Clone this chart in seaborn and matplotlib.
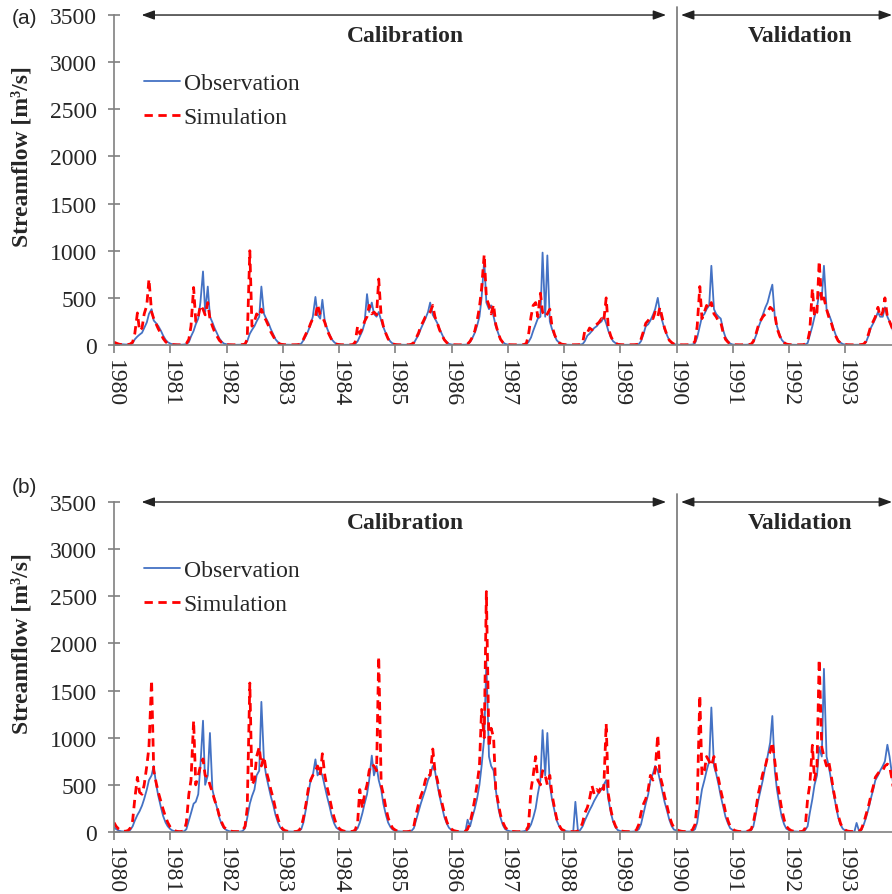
import matplotlib
matplotlib.use('Agg')
import matplotlib.dates as mdates
import matplotlib.pyplot as plt
import pandas as pd
import seaborn as sns

# semi-monthly streamflow [m3/s] (1st and 15th of each month),
# one row per year 1980..1993
obs_a = [
    25, 15, 10, 8, 5, 5, 5, 8, 20, 60, 90, 110, 130, 180, 240, 330, 380, 260, 230, 200, 150, 100, 55, 30,
    15, 8, 5, 4, 3, 3, 5, 10, 30, 90, 150, 220, 280, 450, 780, 350, 620, 300, 240, 180, 120, 70, 35, 15,
    8, 5, 3, 2, 2, 2, 3, 5, 10, 40, 120, 160, 200, 250, 300, 620, 330, 280, 230, 170, 110, 60, 30, 12,
    6, 4, 3, 2, 2, 2, 3, 5, 15, 50, 100, 150, 220, 300, 510, 320, 280, 480, 250, 180, 110, 60, 30, 12,
    5, 3, 2, 2, 2, 2, 3, 10, 40, 90, 150, 230, 540, 350, 450, 330, 300, 350, 260, 190, 120, 70, 35, 15,
    6, 4, 3, 2, 2, 2, 3, 8, 20, 60, 110, 170, 230, 280, 350, 450, 320, 280, 230, 170, 110, 60, 30, 12,
    5, 3, 2, 2, 2, 2, 3, 8, 30, 70, 130, 200, 300, 500, 900, 450, 380, 420, 300, 200, 120, 60, 30, 12,
    5, 3, 2, 2, 2, 2, 3, 5, 10, 30, 80, 150, 220, 280, 300, 980, 300, 950, 250, 170, 100, 50, 25, 10,
    5, 3, 2, 2, 2, 2, 3, 5, 10, 40, 100, 120, 150, 180, 200, 230, 250, 300, 230, 150, 80, 40, 20, 8,
    4, 3, 2, 2, 2, 2, 3, 5, 10, 40, 120, 200, 220, 260, 320, 380, 500, 350, 250, 170, 100, 50, 25, 10,
    5, 3, 2, 2, 2, 2, 3, 5, 20, 80, 200, 300, 330, 380, 420, 840, 380, 330, 300, 280, 150, 80, 40, 15,
    5, 3, 2, 2, 2, 2, 3, 5, 10, 30, 100, 180, 250, 320, 400, 450, 560, 640, 300, 200, 110, 55, 25, 10,
    5, 3, 2, 2, 2, 2, 3, 5, 20, 100, 200, 300, 400, 550, 500, 840, 380, 330, 260, 180, 100, 50, 25, 10,
    5, 3, 2, 2, 2, 2, 3, 5, 10, 30, 100, 180, 230, 280, 350, 300, 300, 400, 300, 250, 180, 100, 50, 20,
]
sim_a = [
    30, 20, 10, 5, 3, 3, 5, 10, 30, 120, 340, 150, 180, 330, 420, 700, 350, 280, 220, 170, 120, 70, 35, 15,
    10, 5, 3, 2, 2, 2, 5, 15, 60, 200, 610, 250, 300, 420, 380, 320, 450, 280, 200, 140, 90, 50, 25, 10,
    5, 3, 2, 2, 2, 2, 3, 5, 10, 60, 1000, 200, 250, 330, 300, 380, 300, 260, 200, 140, 90, 50, 25, 10,
    5, 3, 2, 2, 2, 2, 3, 5, 15, 60, 120, 160, 230, 280, 300, 430, 320, 300, 240, 160, 100, 55, 25, 10,
    5, 3, 2, 2, 2, 2, 5, 30, 200, 120, 180, 250, 300, 420, 330, 350, 320, 700, 300, 200, 120, 65, 30, 12,
    5, 3, 2, 2, 2, 2, 3, 8, 25, 70, 130, 200, 250, 300, 320, 350, 420, 300, 230, 160, 100, 55, 25, 10,
    5, 3, 2, 2, 2, 2, 3, 10, 40, 80, 150, 250, 400, 600, 960, 500, 420, 330, 430, 220, 120, 60, 25, 10,
    5, 3, 2, 2, 2, 2, 3, 5, 15, 100, 300, 420, 450, 300, 550, 350, 300, 330, 380, 200, 110, 55, 25, 10,
    5, 3, 2, 2, 2, 2, 3, 5, 20, 150, 130, 180, 160, 200, 220, 240, 280, 250, 500, 180, 90, 45, 20, 8,
    4, 3, 2, 2, 2, 2, 3, 5, 10, 60, 150, 230, 260, 300, 280, 350, 300, 400, 280, 180, 100, 50, 25, 10,
    5, 3, 2, 2, 2, 2, 3, 10, 40, 200, 620, 280, 350, 420, 380, 450, 330, 300, 250, 240, 120, 60, 30, 12,
    5, 3, 2, 2, 2, 2, 3, 5, 10, 40, 120, 200, 260, 300, 330, 350, 400, 380, 330, 180, 100, 50, 25, 10,
    5, 3, 2, 2, 2, 2, 3, 10, 40, 150, 600, 300, 350, 890, 450, 500, 380, 300, 240, 160, 90, 45, 20, 8,
    5, 3, 2, 2, 2, 2, 3, 5, 10, 40, 120, 200, 250, 300, 400, 300, 350, 500, 300, 250, 180, 100, 50, 20,
]
obs_b = [
    50, 30, 15, 8, 5, 5, 8, 20, 60, 120, 180, 220, 280, 350, 450, 550, 600, 700, 500, 380, 260, 170, 100, 60,
    30, 15, 8, 5, 4, 4, 8, 30, 120, 200, 300, 320, 400, 700, 1180, 500, 600, 1050, 450, 350, 250, 150, 80, 40,
    20, 10, 5, 4, 3, 3, 5, 10, 40, 150, 300, 380, 450, 600, 650, 1380, 750, 600, 480, 380, 280, 180, 100, 50,
    20, 10, 5, 4, 3, 3, 5, 10, 30, 100, 250, 400, 550, 600, 770, 600, 650, 600, 480, 380, 270, 170, 90, 45,
    25, 12, 6, 4, 3, 3, 5, 10, 40, 100, 200, 300, 400, 550, 810, 600, 700, 550, 450, 300, 180, 100, 50, 25,
    15, 8, 5, 4, 3, 3, 5, 10, 40, 120, 220, 300, 380, 450, 550, 600, 700, 650, 500, 380, 260, 160, 90, 45,
    20, 10, 5, 4, 3, 3, 5, 130, 60, 150, 250, 350, 500, 700, 1000, 1800, 800, 700, 650, 450, 250, 150, 70, 30,
    15, 8, 5, 4, 3, 3, 5, 8, 15, 30, 80, 150, 250, 400, 550, 1080, 600, 1050, 500, 350, 220, 120, 60, 25,
    15, 8, 5, 4, 4, 320, 5, 20, 60, 120, 180, 230, 280, 330, 380, 420, 450, 500, 550, 350, 200, 110, 50, 20,
    10, 6, 4, 3, 3, 3, 5, 10, 30, 80, 200, 300, 400, 550, 620, 700, 650, 550, 430, 320, 220, 130, 60, 25,
    15, 8, 5, 4, 3, 3, 5, 10, 30, 100, 300, 450, 550, 650, 750, 1320, 700, 620, 500, 380, 260, 160, 90, 40,
    20, 10, 6, 4, 3, 3, 5, 10, 20, 60, 200, 330, 450, 550, 700, 800, 950, 1230, 650, 450, 280, 160, 80, 35,
    20, 10, 6, 4, 3, 3, 5, 20, 60, 200, 350, 500, 600, 900, 800, 1730, 800, 700, 550, 420, 280, 160, 80, 35,
    15, 8, 5, 4, 3, 96, 5, 20, 80, 150, 250, 350, 450, 550, 600, 650, 700, 750, 925, 800, 600, 400, 250, 120,
]
sim_b = [
    100, 60, 30, 15, 8, 8, 15, 40, 120, 350, 580, 420, 400, 500, 700, 900, 1610, 650, 520, 420, 320, 240, 160, 100,
    50, 25, 12, 6, 4, 5, 15, 100, 400, 550, 1180, 500, 600, 700, 775, 600, 580, 500, 420, 340, 260, 170, 100, 50,
    30, 15, 8, 5, 4, 4, 6, 15, 60, 250, 1580, 500, 550, 800, 900, 700, 800, 650, 550, 450, 350, 240, 140, 70,
    30, 15, 8, 5, 4, 4, 6, 15, 50, 150, 300, 450, 550, 600, 650, 700, 600, 830, 600, 480, 360, 250, 150, 80,
    40, 20, 10, 5, 4, 4, 8, 20, 100, 450, 250, 400, 500, 650, 720, 700, 650, 1860, 500, 400, 250, 150, 80, 40,
    20, 10, 6, 4, 3, 3, 6, 15, 60, 180, 300, 380, 450, 550, 620, 600, 880, 650, 550, 420, 300, 200, 110, 55,
    30, 15, 8, 5, 4, 4, 8, 30, 100, 200, 350, 500, 700, 1300, 1000, 2550, 900, 1100, 1000, 450, 300, 180, 100, 50,
    20, 10, 6, 4, 3, 3, 6, 10, 20, 60, 450, 600, 800, 550, 500, 650, 600, 500, 600, 400, 250, 140, 70, 30,
    15, 8, 5, 4, 4, 4, 10, 30, 100, 200, 260, 350, 490, 400, 450, 420, 500, 450, 1150, 400, 230, 130, 60, 25,
    15, 8, 5, 4, 3, 3, 6, 20, 80, 200, 300, 350, 450, 600, 550, 650, 1030, 600, 500, 380, 270, 170, 90, 45,
    30, 15, 8, 5, 4, 4, 8, 25, 80, 300, 1450, 600, 650, 800, 750, 700, 800, 650, 560, 440, 320, 210, 120, 60,
    30, 15, 8, 5, 4, 4, 6, 12, 30, 100, 250, 400, 520, 620, 700, 800, 850, 950, 750, 550, 380, 240, 130, 60,
    30, 15, 8, 5, 4, 4, 8, 40, 350, 500, 920, 550, 700, 1830, 900, 800, 700, 750, 600, 450, 300, 180, 90, 40,
    20, 10, 6, 4, 3, 3, 8, 30, 100, 180, 280, 380, 480, 580, 620, 650, 650, 700, 720, 700, 550, 380, 230, 110,
]

dates = pd.date_range('1980-01-01', periods=len(obs_a), freq='SMS')

sns.set_style('ticks')
plt.rcParams['font.family'] = ['Liberation Serif', 'DejaVu Serif']

BLUE = '#4472C4'
RED = '#FF0000'
GREY = '#808080'
FS = 17


def draw_panel(ax, obs, sim):
    df = pd.DataFrame({'date': dates, 'obs': obs, 'sim': sim})
    sns.lineplot(data=df, x='date', y='obs', ax=ax, color=BLUE, linewidth=1.3, label='Observation')
    sns.lineplot(data=df, x='date', y='sim', ax=ax, color=RED, linewidth=2.0,
                 linestyle=(0, (3, 2)), label='Simulation')

    ax.set_xlim(pd.Timestamp('1980-01-01'), pd.Timestamp('1993-10-31'))
    ax.set_ylim(0, 3500)
    ax.set_yticks(range(0, 3501, 500))
    ax.xaxis.set_major_locator(mdates.YearLocator())
    ax.xaxis.set_major_formatter(mdates.DateFormatter('%Y'))
    ax.set_xlabel('')
    ax.set_ylabel('Streamflow [m³/s]', fontsize=FS, fontweight='bold')
    ax.yaxis.set_label_coords(-0.105, 0.573)

    for side in ['top', 'right']:
        ax.spines[side].set_visible(False)
    for side in ['left', 'bottom']:
        ax.spines[side].set_color(GREY)
        ax.spines[side].set_linewidth(1.2)
    ax.tick_params(axis='y', direction='inout', length=9, width=1.2, color=GREY,
                   labelsize=FS, pad=8)
    ax.tick_params(axis='x', direction='out', length=6, width=1.2, color=GREY,
                   labelsize=FS, pad=4)
    for lab in ax.get_xticklabels():
        lab.set_rotation(-90)
        lab.set_ha('center')
        lab.set_va('top')

    # calibration / validation split
    ax.axvline(pd.Timestamp('1990-01-01'), ymax=1.025, color=GREY, linewidth=1.3, clip_on=False)
    arrow = dict(arrowstyle='<|-|>,head_length=0.55,head_width=0.2', color='#222222',
                 linewidth=1.0, mutation_scale=14, shrinkA=0, shrinkB=0)
    ax.annotate('', xy=(mdates.date2num(pd.Timestamp('1989-10-25')), 3500),
                xytext=(mdates.date2num(pd.Timestamp('1980-06-28')), 3500),
                arrowprops=arrow, annotation_clip=False)
    ax.annotate('', xy=(mdates.date2num(pd.Timestamp('1993-10-31')), 3500),
                xytext=(mdates.date2num(pd.Timestamp('1990-01-30')), 3500),
                arrowprops=arrow, annotation_clip=False)
    ax.text(mdates.date2num(pd.Timestamp('1985-03-05')), 3280, 'Calibration',
            fontsize=FS, fontweight='bold', ha='center', va='center')
    ax.text(mdates.date2num(pd.Timestamp('1992-03-10')), 3280, 'Validation',
            fontsize=FS, fontweight='bold', ha='center', va='center')

    ax.legend(loc='upper left', bbox_to_anchor=(0.026, 0.855), frameon=False,
              fontsize=FS, handlelength=1.55, handletextpad=0.15, labelspacing=0.55,
              borderaxespad=0)


fig = plt.figure(figsize=(8.92, 8.95), dpi=100)
ax_a = fig.add_axes([0.1278, 0.6134, 0.8722, 0.3687])
ax_b = fig.add_axes([0.1278, 0.0693, 0.8722, 0.3687])

draw_panel(ax_a, obs_a, sim_a)
draw_panel(ax_b, obs_b, sim_b)

fig.text(0.013, 1 - 18 / 895, '(a)', family='Liberation Sans', fontsize=15, va='center')
fig.text(0.013, 1 - 488 / 895, '(b)', family='Liberation Sans', fontsize=15, va='center')

fig.savefig('out.png', dpi=100)
